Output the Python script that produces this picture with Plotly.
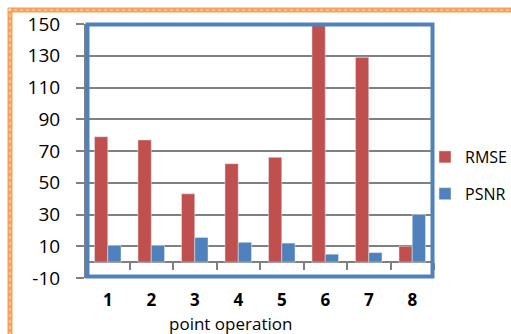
import plotly.graph_objects as go

# Point-operation results: error (RMSE) and quality (PSNR) per operation
operations = ["1", "2", "3", "4", "5", "6", "7", "8"]
rmse = [79, 77, 43, 62, 66, 150, 129, 10]
psnr = [10.5, 10.5, 15.5, 12.5, 12, 5, 6, 30]

y_ticks = [-10, 10, 30, 50, 70, 90, 110, 130, 150]
y_tick_text = ["-10", "10", "30", "50", "70", "90", "110", "130", "150"]

RED = "#c0504d"
BLUE = "#4f81bd"
GRID = "#808080"
ORANGE = "#f8a056"
FONT = "Open Sans"

W, H = 511, 334
L, R, T, B = 86, 77, 24, 56
PW, PH = W - L - R, H - T - B


def px_x(p):
    return (p - L) / PW


def px_y(p):
    return (H - B - p) / PH


fig = go.Figure()
fig.add_trace(go.Bar(name="RMSE", x=operations, y=rmse, marker_color=RED,
                     legendgroup="a"))
fig.add_trace(go.Bar(name="PSNR", x=operations, y=psnr, marker_color=BLUE,
                     legendgroup="b"))

fig.update_layout(
    width=W, height=H,
    margin=dict(l=L, r=R, t=T, b=B, autoexpand=False),
    paper_bgcolor="white", plot_bgcolor="white",
    barmode="group", bargap=0.39, bargroupgap=0,
    font=dict(family=FONT, color="black"),
    showlegend=True,
    legend=dict(x=px_x(425), xanchor="left", y=px_y(140),
                yanchor="top", font=dict(size=16, family=FONT),
                tracegroupgap=13, bgcolor="rgba(0,0,0,0)"),
    xaxis=dict(
        type="category", range=[-0.5, 7.5], showgrid=False, showline=False,
        zeroline=False, ticks="", ticklabelstandoff=10,
        tickfont=dict(size=17, family=FONT, weight="bold"),
    ),
    # second category axis: the tick marks along the zero line
    xaxis2=dict(
        overlaying="x", anchor="free", position=10 / 160, range=[-0.5, 7.5],
        tickvals=[i + 0.5 for i in range(-1, 8)], showticklabels=False,
        ticks="outside", ticklen=7, tickwidth=2, tickcolor=GRID,
        showgrid=False, showline=False, zeroline=False,
    ),
    yaxis=dict(
        range=[-10, 150], tickvals=y_ticks, ticktext=y_tick_text,
        ticks="outside", ticklen=8,
        tickwidth=2, tickcolor=GRID, ticklabelstandoff=12,
        tickfont=dict(size=19, family=FONT),
        showgrid=True, gridcolor=GRID, gridwidth=2,
        zeroline=True, zerolinecolor=GRID, zerolinewidth=2,
        showline=True, linecolor=GRID, linewidth=2,
    ),
)

# dummy trace to activate the tick-mark axis
fig.add_trace(go.Scatter(x=[None], y=[None], xaxis="x2", showlegend=False,
                         hoverinfo="skip"))

# blue plot-area frame
fig.add_shape(type="rect", xref="paper", yref="paper",
              x0=1.5 / PW, x1=1 - 1.5 / PW, y0=1.5 / PH, y1=px_y(24.5),
              line=dict(color=BLUE, width=4), layer="above")

# orange outer frame: solid band with a fine light dotted line through it
for col, wd, dash in [(ORANGE, 5, "solid"), ("#fde3cc", 1, "dot")]:
    fig.add_shape(type="line", xref="paper", yref="paper",
                  x0=px_x(10), x1=px_x(10), y0=px_y(8), y1=px_y(H + 5),
                  line=dict(color=col, width=wd, dash=dash))
    fig.add_shape(type="line", xref="paper", yref="paper",
                  x0=px_x(8), x1=px_x(W + 5), y0=px_y(10), y1=px_y(10),
                  line=dict(color=col, width=wd, dash=dash))

fig.add_annotation(text="point operation", xref="paper", yref="paper",
                   x=px_x(230), y=px_y(310), xanchor="center",
                   yanchor="top", showarrow=False,
                   font=dict(size=17, family=FONT, color="black"))

fig.write_html("out.html")
